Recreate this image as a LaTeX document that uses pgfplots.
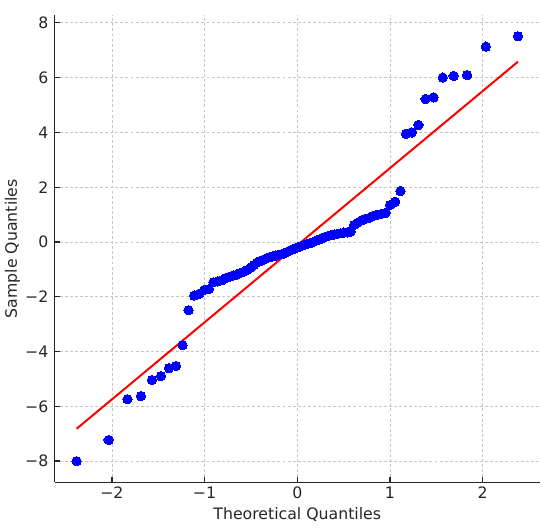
\documentclass[border=0pt]{standalone}
\usepackage{pgfplots}
\pgfplotsset{compat=1.18}
\usepackage{fontspec}
\setmainfont{DejaVu Sans}
\usetikzlibrary{calc}

\begin{document}
\begin{tikzpicture}
\begin{axis}[
  scale only axis,
  width=364.1pt, height=350.5pt,
  xmin=-2.619, xmax=2.619,
  ymin=-8.776, ymax=8.286,
  axis x line*=bottom, axis y line*=left,
  axis line style={-, line width=0.9pt, black!85},
  tick align=inside,
  major tick length=4pt,
  tick style={line width=0.9pt, black!85},
  xtick={-2,-1,0,1,2},
  xticklabels={−2,−1,0,1,2},
  ytick={-8,-6,-4,-2,0,2,4,6,8},
  yticklabels={−8,−6,−4,−2,0,2,4,6,8},
  font=\fontsize{11.8}{13.5}\selectfont,
  xticklabel style={anchor=base, yshift=-12pt, text=black!85},
  yticklabel style={anchor=east, inner sep=0pt, xshift=-4.5pt, text=black!85},
  grid=major,
  major grid style={dash pattern=on 2.2pt off 1.6pt, line width=0.6pt, gray!45},
  xlabel={Theoretical Quantiles},
  ylabel={Sample Quantiles},
  every axis x label/.style={at={(axis description cs:0.5,-0.0792)}, anchor=base, text=black!85},
  every axis y label/.style={at={(axis description cs:-0.0775,0.5)}, rotate=90, anchor=base, text=black!85},
  clip=false,
]
\addplot[only marks, mark=*, mark size=3.5pt, mark options={fill=blue, draw=blue, line width=0pt}] table {
x y
-2.381 -8.00
-2.035 -7.23
-1.833 -5.74
-1.687 -5.63
-1.569 -5.04
-1.471 -4.90
-1.384 -4.61
-1.307 -4.53
-1.237 -3.77
-1.173 -2.49
-1.113 -1.96
-1.057 -1.89
-1.003 -1.75
-0.953 -1.72
-0.905 -1.47
-0.859 -1.44
-0.815 -1.40
-0.772 -1.32
-0.731 -1.27
-0.691 -1.22
-0.651 -1.19
-0.613 -1.13
-0.576 -1.08
-0.539 -1.02
-0.504 -0.93
-0.469 -0.84
-0.434 -0.75
-0.400 -0.70
-0.367 -0.65
-0.334 -0.60
-0.301 -0.56
-0.269 -0.53
-0.237 -0.50
-0.205 -0.47
-0.173 -0.45
-0.141 -0.42
-0.109 -0.37
-0.078 -0.31
-0.047 -0.27
-0.016 -0.22
0.016 -0.18
0.047 -0.14
0.078 -0.10
0.109 -0.07
0.141 -0.04
0.173 0.00
0.205 0.05
0.237 0.09
0.269 0.13
0.301 0.18
0.334 0.22
0.367 0.25
0.400 0.27
0.434 0.30
0.469 0.32
0.504 0.34
0.539 0.35
0.576 0.38
0.613 0.62
0.651 0.70
0.691 0.78
0.731 0.84
0.772 0.87
0.815 0.95
0.859 0.99
0.905 1.02
0.953 1.06
1.003 1.35
1.057 1.47
1.113 1.86
1.173 3.95
1.237 4.00
1.307 4.27
1.384 5.22
1.471 5.28
1.569 6.00
1.687 6.06
1.833 6.09
2.035 7.13
2.381 7.51
};
\addplot[red, line width=1.5pt] coordinates {(-2.381,-6.82) (2.381,6.58)};
\end{axis}
\pgfresetboundingbox
\path[use as bounding box] ($(current axis.south west)+(-40.9pt,-35.8pt)$) rectangle ($(current axis.north east)+(7.5pt,11.25pt)$);
\end{tikzpicture}
\end{document}
